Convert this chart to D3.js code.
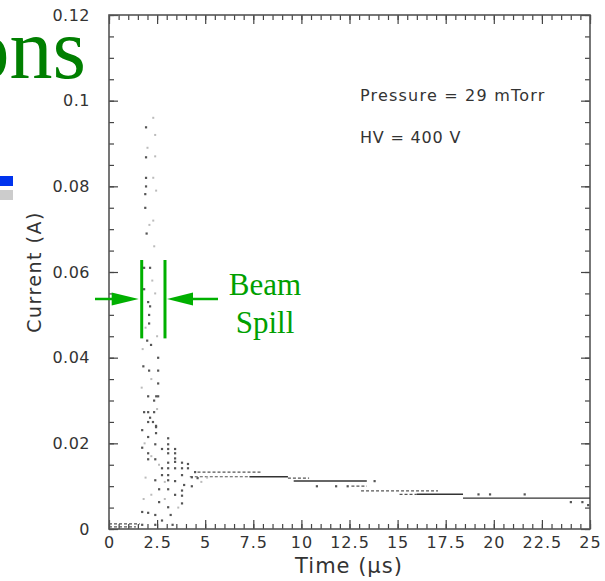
<!DOCTYPE html>
<html>
<head>
<meta charset="utf-8">
<script src="https://cdn.jsdelivr.net/npm/d3@7/dist/d3.min.js"></script>
<style>
  html, body { margin: 0; padding: 0; background: #fff; }
  svg { display: block; }
  .lbl { font-family: "DejaVu Sans", sans-serif; fill: #333; }
</style>
</head>
<body>
<svg id="chart" width="605" height="581"></svg>
<script>
// ---------------- data ----------------
const xMajorTicks = [0, 2.5, 5, 7.5, 10, 12.5, 15, 17.5, 20, 22.5, 25];
const xTickLabels = ["0", "2.5", "5", "7.5", "10", "12.5", "15", "17.5", "20", "22.5", "25"];
const yMajorTicks = [0, 0.02, 0.04, 0.06, 0.08, 0.1, 0.12];
const yTickLabels = ["0", "0.02", "0.04", "0.06", "0.08", "0.1", "0.12"];

// sampled current points [time (us), current (A)] - dark samples
const darkPoints = [
  [1.92,0.0938],[1.92,0.0868],[1.92,0.0820],[1.92,0.0800],[1.88,0.0782],[1.88,0.0750],
  [1.95,0.0690],[1.82,0.0610],[2.13,0.0610],[1.82,0.0560],[2.03,0.0530],[2.13,0.0520],
  [2.08,0.0500],[2.08,0.0480],[1.98,0.0440],[2.18,0.0430],[2.55,0.0400],[1.78,0.0380],
  [2.08,0.0370],[2.55,0.0370],[2.55,0.0340],[2.03,0.0310],[2.45,0.0310],[2.55,0.0310],
  [2.34,0.0300],[1.82,0.0273],[2.03,0.0273],[2.34,0.0273],[2.13,0.0260],[2.03,0.0250],
  [2.28,0.0250],[2.44,0.0238],
  [2.44,0.0241],[1.72,0.0231],[2.44,0.0224],[2.03,0.0215],[3.07,0.0212],[2.40,0.0198],
  [3.07,0.0198],[1.72,0.0190],[2.75,0.0187],[3.07,0.0187],[3.43,0.0187],[2.03,0.0177],
  [3.07,0.0177],[3.43,0.0177],[2.03,0.0163],[2.40,0.0163],[3.43,0.0165],[3.07,0.0155],
  [3.43,0.0157],[3.79,0.0155],[4.10,0.0152],[2.75,0.0142],[3.07,0.0142],[3.43,0.0142],
  [3.79,0.0142],[4.10,0.0142],[4.47,0.0133],[2.75,0.0126],[3.07,0.0126],[3.79,0.0126],
  [4.30,0.0121],[4.60,0.0119],[2.40,0.0114],[3.07,0.0114],[3.43,0.0112],[3.90,0.0103],
  [4.30,0.0100],[2.60,0.0093],[3.07,0.0093],[3.79,0.0090],[3.43,0.0080],[3.79,0.0078],
  [2.60,0.0063],[3.79,0.0060],[3.07,0.0051],[1.72,0.0040],[2.03,0.0038],[2.40,0.0033],
  [3.20,0.0033],[2.75,0.0020],[1.72,0.0010],[2.40,0.0010],[3.30,0.0010],
  [13.8,0.0112],[19.2,0.0081],[19.8,0.0081],[21.6,0.0081],[24.0,0.0063],[24.6,0.0063],[24.9,0.0056],
  [10.8,0.0100],[11.8,0.0100],[12.4,0.0100]
];
// faint (light) samples
const faintPoints = [
  [2.30,0.0960],[2.40,0.0920],[2.00,0.0890],[2.40,0.0870],[2.30,0.0820],[2.45,0.0790],
  [2.30,0.0720],[2.10,0.0710],[2.35,0.0660],[2.25,0.0580],[2.40,0.0550],[1.90,0.0470],
  [2.50,0.0450],[1.75,0.0420],[2.50,0.0280],[1.70,0.0330],[2.20,0.0350],[1.85,0.0200],
  [2.20,0.0170],[2.60,0.0150],[1.90,0.0120],[2.20,0.0080],[2.90,0.0070],[3.60,0.0050],
  [1.80,0.0070],[2.90,0.0110],[4.80,0.0110],[5.10,0.0120]
];
// horizontal runs of equal-valued samples [start time, end time, current]
const solidRuns = [
  [7.3, 9.3, 0.0122],
  [9.6, 13.4, 0.0112],
  [16.0, 18.4, 0.0081],
  [18.4, 25.0, 0.0072]
];
const dashedRuns = [
  [0.0, 1.6, 0.0012],
  [0.0, 1.4, 0.0005],
  [4.6, 7.9, 0.0133],
  [4.2, 7.3, 0.0122],
  [9.3, 10.4, 0.0119],
  [12.6, 13.4, 0.0100],
  [13.1, 17.1, 0.0089],
  [15.1, 16.0, 0.0081]
];
const beamSpill = [1.70, 2.91];

// ---------------- chart ----------------
const svg = d3.select("#chart");
const x = d3.scaleLinear().domain([0, 25]).range([109, 590]);
const y = d3.scaleLinear().domain([0, 0.12]).range([529, 15]);
const xMinor = d3.range(0, 25.001, 0.5).map(v => +v.toFixed(2));
const yMinor = d3.range(0, 0.12001, 0.005).map(v => +v.toFixed(4));

// slide fragments
svg.append("text").attr("x", 86).attr("y", 78)
  .attr("text-anchor", "end")
  .style("font-family", "'Liberation Serif', 'Times New Roman', serif")
  .style("font-size", "86px").style("fill", "#007f00").text("ons");
svg.append("rect").attr("x", 0).attr("y", 176).attr("width", 13).attr("height", 10).attr("fill", "#0033ee");
svg.append("rect").attr("x", 0).attr("y", 190).attr("width", 13).attr("height", 10).attr("fill", "#cccccc");

// axes (ticks inside)
function styleAxis(g) {
  g.select(".domain").remove();
  g.selectAll(".tick line").attr("stroke", "#444").attr("stroke-width", 1.2);
}
const B = svg.append("g").attr("transform", `translate(0,${y(0)})`);
B.append("g").call(d3.axisBottom(x).tickValues(xMinor).tickSize(-5).tickFormat("")).call(styleAxis);
B.append("g").call(d3.axisBottom(x).tickValues(xMajorTicks).tickSize(-9).tickPadding(5)
  .tickFormat((d, i) => xTickLabels[i])).call(styleAxis)
  .selectAll("text").attr("class", "lbl").style("font-size", "16px").attr("letter-spacing", "1px").attr("dy", "0.9em");
const T = svg.append("g").attr("transform", `translate(0,${y(0.12)})`);
T.append("g").call(d3.axisTop(x).tickValues(xMinor).tickSize(-5).tickFormat("")).call(styleAxis);
T.append("g").call(d3.axisTop(x).tickValues(xMajorTicks).tickSize(-9).tickFormat("")).call(styleAxis);
const L = svg.append("g").attr("transform", `translate(${x(0)},0)`);
L.append("g").call(d3.axisLeft(y).tickValues(yMinor).tickSize(-5).tickFormat("")).call(styleAxis);
L.append("g").call(d3.axisLeft(y).tickValues(yMajorTicks).tickSize(-9).tickPadding(19)
  .tickFormat((d, i) => yTickLabels[i])).call(styleAxis)
  .selectAll("text").attr("class", "lbl").style("font-size", "16px").attr("letter-spacing", "0.5px");
const R = svg.append("g").attr("transform", `translate(${x(25)},0)`);
R.append("g").call(d3.axisRight(y).tickValues(yMinor).tickSize(-5).tickFormat("")).call(styleAxis);
R.append("g").call(d3.axisRight(y).tickValues(yMajorTicks).tickSize(-9).tickFormat("")).call(styleAxis);

// frame
svg.append("rect").attr("x", x(0)).attr("y", y(0.12))
  .attr("width", x(25) - x(0)).attr("height", y(0) - y(0.12))
  .attr("fill", "none").attr("stroke", "#555").attr("stroke-width", 1.6);

// data runs
svg.append("g").selectAll("line").data(solidRuns).join("line")
  .attr("x1", d => x(d[0])).attr("x2", d => x(d[1]))
  .attr("y1", d => y(d[2])).attr("y2", d => y(d[2]))
  .attr("stroke", "#333").attr("stroke-width", 1.4);
svg.append("g").selectAll("line").data(dashedRuns).join("line")
  .attr("x1", d => x(d[0])).attr("x2", d => x(d[1]))
  .attr("y1", d => y(d[2])).attr("y2", d => y(d[2]))
  .attr("stroke", "#555").attr("stroke-width", 1.2).attr("stroke-dasharray", "3,2");

// points
svg.append("g").selectAll("rect").data(faintPoints).join("rect")
  .attr("x", d => x(d[0]) - 1).attr("y", d => y(d[1]) - 1)
  .attr("width", 2).attr("height", 2).attr("fill", "#bbb");
svg.append("g").selectAll("rect").data(darkPoints).join("rect")
  .attr("x", d => x(d[0]) - 1).attr("y", d => y(d[1]) - 1)
  .attr("width", 2.2).attr("height", 2.2).attr("fill", "#555");

// axis titles
svg.append("text").attr("class", "lbl").attr("x", 349).attr("y", 573)
  .attr("text-anchor", "middle").style("font-size", "21px").attr("letter-spacing", "1px")
  .text("Time (\u03bcs)");
svg.append("text").attr("class", "lbl")
  .attr("transform", "translate(41,272) rotate(-90)")
  .attr("text-anchor", "middle").style("font-size", "19px").attr("letter-spacing", "1.5px")
  .text("Current (A)");

// info text
svg.append("text").attr("class", "lbl").attr("x", 360).attr("y", 101)
  .style("font-size", "16px").attr("letter-spacing", "1.2px").text("Pressure = 29 mTorr");
svg.append("text").attr("class", "lbl").attr("x", 360).attr("y", 143)
  .style("font-size", "16px").attr("letter-spacing", "0.8px").text("HV = 400 V");

// beam spill annotation
const green = "#00b000";
const ann = svg.append("g");
const yTop = y(0.0628), yBot = y(0.0445), yArr = y(0.0537);
ann.selectAll("line.bs").data(beamSpill).join("line").attr("class", "bs")
  .attr("x1", d => x(d)).attr("x2", d => x(d)).attr("y1", yTop).attr("y2", yBot)
  .attr("stroke", green).attr("stroke-width", 3);
const xl = x(beamSpill[0]), xr = x(beamSpill[1]);
ann.append("line").attr("x1", 95).attr("x2", xl - 26).attr("y1", yArr).attr("y2", yArr)
  .attr("stroke", green).attr("stroke-width", 2.5);
ann.append("path").attr("d", `M${xl - 3},${yArr} L${xl - 30},${yArr - 6.5} L${xl - 30},${yArr + 6.5} Z`).attr("fill", green);
ann.append("line").attr("x1", xr + 24).attr("x2", 218).attr("y1", yArr).attr("y2", yArr)
  .attr("stroke", green).attr("stroke-width", 2.5);
ann.append("path").attr("d", `M${xr + 2},${yArr} L${xr + 28},${yArr - 6.5} L${xr + 28},${yArr + 6.5} Z`).attr("fill", green);
ann.append("text").attr("x", 265).attr("y", 295).attr("text-anchor", "middle")
  .style("font-family", "'Liberation Serif', 'Times New Roman', serif")
  .style("font-size", "31px").style("fill", "#00a000").text("Beam");
ann.append("text").attr("x", 265).attr("y", 333).attr("text-anchor", "middle")
  .style("font-family", "'Liberation Serif', 'Times New Roman', serif")
  .style("font-size", "31px").style("fill", "#00a000").text("Spill");
</script>
</body>
</html>
